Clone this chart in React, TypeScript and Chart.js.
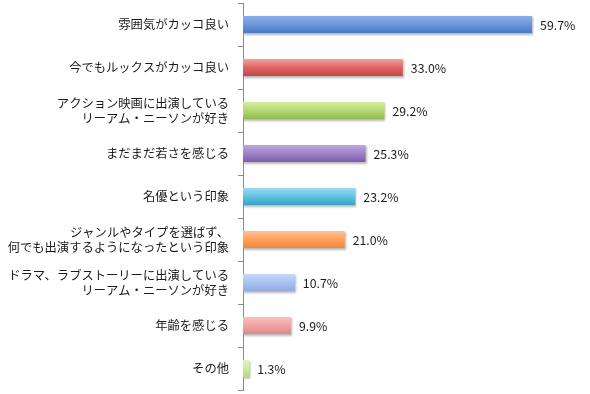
import React, { useEffect, useRef } from "react";
import { Chart, registerables } from "chart.js";

Chart.register(...registerables);

const categories: (string | string[])[] = [
  "雰囲気がカッコ良い",
  "今でもルックスがカッコ良い",
  ["アクション映画に出演している", "リーアム・ニーソンが好き"],
  "まだまだ若さを感じる",
  "名優という印象",
  ["ジャンルやタイプを選ばず、", "何でも出演するようになったという印象"],
  ["ドラマ、ラブストーリーに出演している", "リーアム・ニーソンが好き"],
  "年齢を感じる",
  "その他",
];

const values: number[] = [59.7, 33.0, 29.2, 25.3, 23.2, 21.0, 10.7, 9.9, 1.3];

// gradient stops per bar: top, middle, bottom
const barTopColors = ["#8db0ea", "#f2a4a4", "#d6eea4", "#bea9dc", "#9edef2", "#ffc394", "#cadaf9", "#f9c4c4", "#e6f5c4"];
const barMidColors = ["#6b97dc", "#e06464", "#b5d972", "#9d82c9", "#60c1e2", "#ffa15a", "#a9c2f1", "#f0a2a2", "#d1e9a3"];
const barBottomColors = ["#4877be", "#bf4747", "#8fb747", "#795ba5", "#389fc7", "#ef8636", "#8fa9df", "#de8787", "#b6d686"];

const FONT = "'Noto Sans CJK JP', 'Noto Sans', sans-serif";

const dataLabelPlugin = {
  id: "dataLabels",
  afterDatasetsDraw(chart: any) {
    const ctx = chart.ctx;
    const meta = chart.getDatasetMeta(0);
    ctx.save();
    ctx.font = `12.3px ${FONT}`;
    ctx.fillStyle = "#1a1a1a";
    ctx.textAlign = "left";
    ctx.textBaseline = "middle";
    meta.data.forEach((bar: any, i: number) => {
      ctx.fillText(values[i].toFixed(1) + "%", bar.x + 8, bar.y + 1);
    });
    ctx.restore();
  },
};

const shadowPlugin = {
  id: "barShadow",
  beforeDatasetDraw(chart: any) {
    const ctx = chart.ctx;
    ctx.save();
    ctx.shadowColor = "rgba(0,0,0,0.28)";
    ctx.shadowBlur = 2;
    ctx.shadowOffsetX = 1;
    ctx.shadowOffsetY = 1.5;
  },
  afterDatasetDraw(chart: any) {
    chart.ctx.restore();
  },
};

export default function App() {
  const canvasRef = useRef<HTMLCanvasElement | null>(null);

  useEffect(() => {
    if (!canvasRef.current) return;
    const chart = new Chart(canvasRef.current, {
      type: "bar",
      data: {
        labels: categories,
        datasets: [
          {
            data: values,
            barPercentage: 0.4,
            categoryPercentage: 1,
            borderWidth: 0,
            backgroundColor: (c: any) => {
              const ch = c.chart;
              const ys = ch.scales?.y;
              const i = c.dataIndex ?? 0;
              if (!ys) return barMidColors[i];
              const center = ys.getPixelForValue(i);
              if (!Number.isFinite(center)) return barMidColors[i];
              const half = 9;
              const g = ch.ctx.createLinearGradient(0, center - half, 0, center + half);
              g.addColorStop(0, barTopColors[i]);
              g.addColorStop(0.5, barMidColors[i]);
              g.addColorStop(1, barBottomColors[i]);
              return g;
            },
          },
        ],
      },
      options: {
        indexAxis: "y",
        animation: false,
        responsive: false,
        maintainAspectRatio: false,
        layout: { padding: { top: 3, bottom: 4, right: 8, left: 0 } },
        plugins: {
          legend: { display: false },
          tooltip: { enabled: false },
        },
        scales: {
          x: {
            display: false,
            min: 0,
            max: 70,
          },
          y: {
            afterFit: (s: any) => {
              s.width = 243;
              s.paddingTop = 0;
              s.paddingBottom = 0;
            },
            border: { display: true, color: "#8c8c8c", width: 1 },
            grid: {
              drawOnChartArea: false,
              drawTicks: true,
              tickLength: 5,
              color: "#8c8c8c",
              offset: true,
            },
            ticks: {
              padding: 9,
              color: "#1a1a1a",
              font: { size: 12.3, family: FONT, lineHeight: 1.2 },
              autoSkip: false,
            },
          },
        },
      },
      plugins: [shadowPlugin, dataLabelPlugin],
    } as any);
    return () => chart.destroy();
  }, []);

  return (
    <div style={{ position: "absolute", left: 0, top: 0, width: 590, height: 394, background: "#fff" }}>
      <canvas ref={canvasRef} width={590} height={394} style={{ width: 590, height: 394, display: "block" }} />
    </div>
  );
}
